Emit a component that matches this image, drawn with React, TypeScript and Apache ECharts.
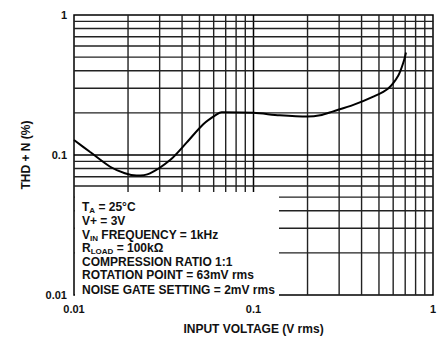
import React, { useEffect, useRef } from 'react';
import * as echarts from 'echarts';

// Curve data
const inputVoltage = [0.01, 0.0123, 0.0159, 0.0192, 0.0223, 0.0265, 0.0343, 0.0425, 0.0525, 0.0624, 0.0665, 0.1, 0.14, 0.2, 0.235, 0.278, 0.36, 0.465, 0.563, 0.641, 0.689, 0.707];
const thdN = [0.128, 0.105, 0.0824, 0.074, 0.0713, 0.074, 0.092, 0.123, 0.166, 0.195, 0.202, 0.2, 0.192, 0.188, 0.192, 0.205, 0.228, 0.261, 0.299, 0.37, 0.472, 0.54];

// Grid lines
const xGridLines = [0.02, 0.03, 0.04, 0.05, 0.06, 0.07, 0.08, 0.09, 0.1, 0.2, 0.3, 0.4, 0.5, 0.6, 0.7, 0.8, 0.9];
const yGridLines = [0.02, 0.03, 0.04, 0.05, 0.06, 0.07, 0.08, 0.09, 0.1, 0.2, 0.3, 0.4, 0.5, 0.6, 0.7, 0.8, 0.9];
const axisMin = 0.01;
const axisMax = 1;

// Conditions box text (rich text: b = normal, s = subscript)
const conditionLines = [
  '{b|T}{s|A}{b| = 25°C}',
  '{b|V+ = 3V}',
  '{b|V}{s|IN}{b| FREQUENCY = 1kHz}',
  '{b|R}{s|LOAD}{b| = 100kΩ}',
  '{b|COMPRESSION RATIO 1:1}',
  '{b|ROTATION POINT = 63mV rms}',
  '{b|NOISE GATE SETTING = 2mV rms}',
];

const FONT = '"Liberation Sans", Arial, Helvetica, sans-serif';
const INK = '#111';

export default function App() {
  const ref = useRef<HTMLDivElement>(null);
  useEffect(() => {
    if (!ref.current) return;
    const chart = echarts.init(ref.current, undefined, { renderer: 'svg' });
    const lineTops = [200, 214, 228, 241, 255, 268, 283];
    chart.setOption({
      animation: false,
      backgroundColor: '#fff',
      grid: {
        left: 74,
        right: 8,
        top: 15,
        bottom: 39,
        show: true,
        borderColor: '#000',
        borderWidth: 1.5,
        backgroundColor: 'transparent',
      },
      xAxis: {
        type: 'log',
        logBase: 10,
        min: axisMin,
        max: axisMax,
        name: 'INPUT VOLTAGE (V rms)',
        nameLocation: 'middle',
        nameGap: 28,
        nameTextStyle: { fontFamily: FONT, fontWeight: 'bold', fontSize: 12, color: INK },
        axisLine: { show: false },
        axisTick: { show: false },
        splitLine: { show: false },
        axisLabel: {
          fontFamily: FONT,
          fontWeight: 'bold',
          fontSize: 11,
          color: INK,
          margin: 8,
          formatter: (v: number) => String(v),
        },
      },
      yAxis: {
        type: 'log',
        logBase: 10,
        min: axisMin,
        max: axisMax,
        name: 'THD + N (%)',
        nameLocation: 'middle',
        nameGap: 42,
        nameTextStyle: { fontFamily: FONT, fontWeight: 'bold', fontSize: 12, color: INK },
        axisLine: { show: false },
        axisTick: { show: false },
        splitLine: { show: false },
        axisLabel: {
          fontFamily: FONT,
          fontWeight: 'bold',
          fontSize: 11,
          color: INK,
          margin: 7,
          formatter: (v: number) => String(v),
        },
      },
      series: [
        {
          type: 'custom',
          z: 1,
          silent: true,
          data: xGridLines.map((v) => [v, axisMin]),
          renderItem: (params: any, api: any) => {
            const v = api.value(0);
            const p1 = api.coord([v, axisMin]);
            const p2 = api.coord([v, axisMax]);
            const major = Math.abs(Math.log10(v) - Math.round(Math.log10(v))) < 1e-6;
            return {
              type: 'line',
              shape: { x1: p1[0], y1: p1[1], x2: p2[0], y2: p2[1] },
              style: { stroke: major ? '#000' : '#222', lineWidth: major ? 1.5 : 1.4 },
            };
          },
        },
        {
          type: 'custom',
          z: 1,
          silent: true,
          data: yGridLines.map((v) => [axisMin, v]),
          renderItem: (params: any, api: any) => {
            const v = api.value(1);
            const p1 = api.coord([axisMin, v]);
            const p2 = api.coord([axisMax, v]);
            const major = Math.abs(Math.log10(v) - Math.round(Math.log10(v))) < 1e-6;
            return {
              type: 'line',
              shape: { x1: p1[0], y1: p1[1], x2: p2[0], y2: p2[1] },
              style: { stroke: major ? '#000' : '#222', lineWidth: major ? 1.5 : 1.4 },
            };
          },
        },
        {
          type: 'line',
          z: 5,
          data: inputVoltage.map((x, i) => [x, thdN[i]]),
          smooth: 0.3,
          showSymbol: false,
          lineStyle: { color: '#000', width: 2 },
        },
      ],
      graphic: [
        {
          type: 'rect',
          z: 50,
          shape: { x: 75, y: 192, width: 204, height: 108 },
          style: { fill: '#fff' },
        },
        ...conditionLines.map((t, i) => ({
          type: 'text',
          z: 60,
          x: 82,
          y: lineTops[i],
          style: {
            text: t,
            rich: {
              b: { fontFamily: FONT, fontWeight: 'bold', fontSize: 12, fill: INK, lineHeight: 14 },
              s: { fontFamily: FONT, fontWeight: 'bold', fontSize: 8, fill: INK, lineHeight: 8, verticalAlign: 'bottom' },
            },
          },
        })),
      ],
    });
    return () => chart.dispose();
  }, []);
  return (
    <div
      ref={ref}
      style={{ position: 'fixed', left: 0, top: 0, width: 441, height: 340, background: '#fff' }}
    />
  );
}
